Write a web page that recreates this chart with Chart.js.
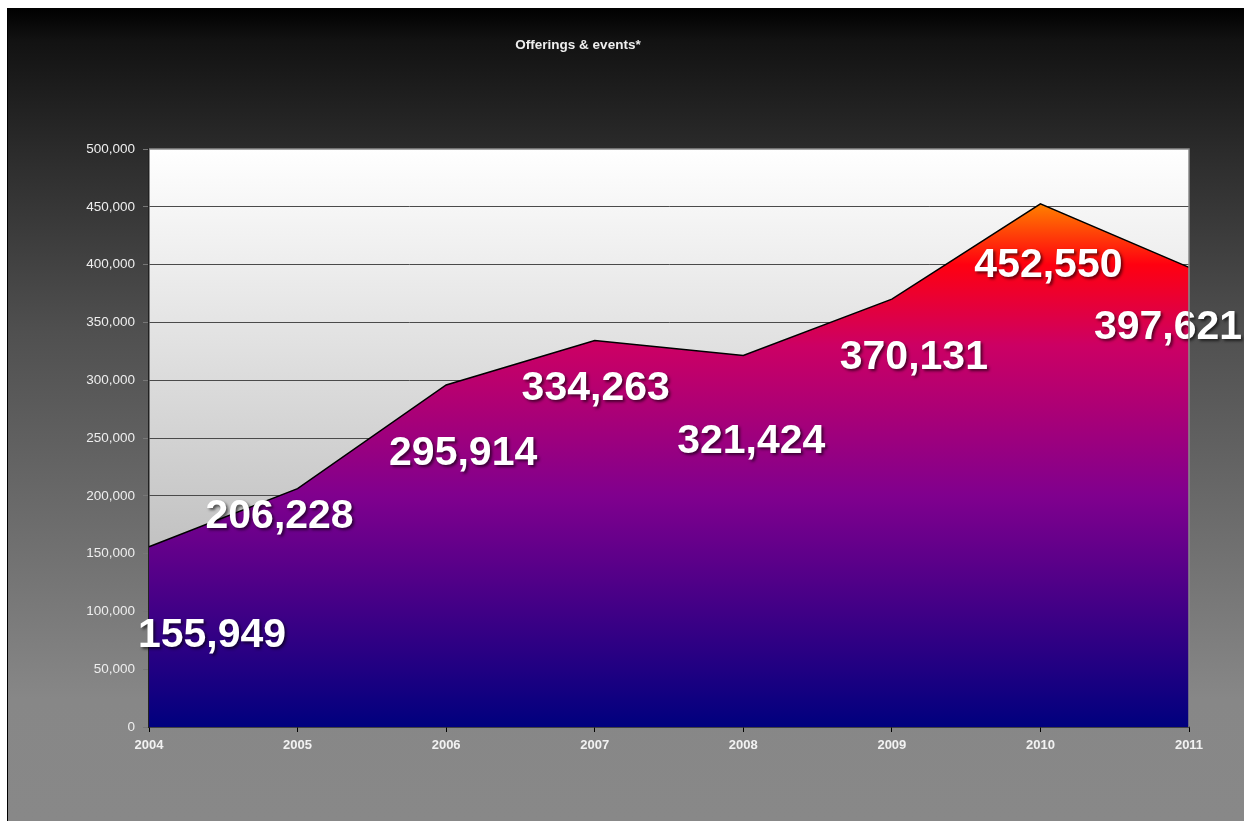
<!DOCTYPE html>
<html>
<head>
<meta charset="utf-8">
<script src="https://cdn.jsdelivr.net/npm/chart.js@4.4.0/dist/chart.umd.min.js"></script>
<style>
    html, body { margin: 0; padding: 0; background: #fff; }
    #wrap {
        position: absolute; left: 7px; top: 8px;
        width: 1236px; height: 813px;
        border-left: 1px solid #000;
    }
    canvas { display: block; }
</style>
</head>
<body>
<div id="wrap"><canvas id="offeringsChart" width="1236" height="813"></canvas></div>
<script>
// データ
const years = ['2004', '2005', '2006', '2007', '2008', '2009', '2010', '2011'];
const offerings = [155949, 206228, 295914, 334263, 321424, 370131, 452550, 397621];
const yTicks = [0, 50000, 100000, 150000, 200000, 250000, 300000, 350000, 400000, 450000, 500000];
const chartTitle = 'Offerings & events*';

// ラベル位置のずれ（点からのピクセル）
const labelOffsets = [[63, 89], [-18, 28], [17, 69], [1, 48], [8, 86], [22, 59], [8, 62], [-21, 60]];

const fmt = v => v.toLocaleString('en-US');

// 背景と塗りの描画
const bgPlugin = {
    id: 'bgPlugin',
    beforeDraw(chart) {
        const ctx = chart.ctx;
        const a = chart.chartArea;
        ctx.save();
        const g = ctx.createLinearGradient(0, 0, 0, chart.height);
        g.addColorStop(0, '#000000');
        g.addColorStop(0.04, '#121212');
        g.addColorStop(0.18, '#2c2c2c');
        g.addColorStop(0.4, '#505050');
        g.addColorStop(0.85, '#878787');
        g.addColorStop(1, '#888888');
        ctx.fillStyle = g;
        ctx.fillRect(0, 0, chart.width, chart.height);

        const pg = ctx.createLinearGradient(0, a.top, 0, a.bottom);
        pg.addColorStop(0, '#ffffff');
        pg.addColorStop(1, '#a6a6a6');
        ctx.fillStyle = pg;
        ctx.fillRect(a.left, a.top, a.right - a.left, a.bottom - a.top);

        // タイトル
        ctx.fillStyle = '#eeeeee';
        ctx.font = 'bold 13.5px "Liberation Sans", Arial, sans-serif';
        ctx.textAlign = 'center';
        ctx.textBaseline = 'middle';
        ctx.fillText(chartTitle, 570, 37);
        ctx.restore();
    },
    afterDraw(chart) {
        const ctx = chart.ctx;
        const a = chart.chartArea;
        ctx.save();
        ctx.strokeStyle = '#8a8a8a';
        ctx.lineWidth = 1.5;
        ctx.beginPath();
        ctx.moveTo(a.left, a.top);
        ctx.lineTo(a.right, a.top);
        ctx.lineTo(a.right, a.bottom);
        ctx.stroke();
        ctx.restore();
    }
};

// データラベル
const labelPlugin = {
    id: 'labelPlugin',
    afterDatasetsDraw(chart) {
        const ctx = chart.ctx;
        const meta = chart.getDatasetMeta(0);
        ctx.save();
        ctx.font = 'bold 41px "Liberation Sans", Arial, sans-serif';
        ctx.textAlign = 'center';
        ctx.textBaseline = 'middle';
        ctx.fillStyle = '#ffffff';
        ctx.shadowColor = 'rgba(0,0,0,0.6)';
        ctx.shadowOffsetX = 2;
        ctx.shadowOffsetY = 2;
        ctx.shadowBlur = 3;
        meta.data.forEach((pt, i) => {
            const off = labelOffsets[i];
            ctx.fillText(fmt(offerings[i]), pt.x + off[0], pt.y + off[1]);
        });
        ctx.restore();
    }
};

const ctx = document.getElementById('offeringsChart').getContext('2d');
new Chart(ctx, {
    type: 'line',
    data: {
        labels: years,
        datasets: [{
            data: offerings,
            fill: 'origin',
            borderColor: '#000000',
            borderWidth: 1.5,
            tension: 0,
            pointRadius: 0,
            backgroundColor: (c) => {
                const a = c.chart.chartArea;
                if (!a) return '#800080';
                const g = c.chart.ctx.createLinearGradient(0, a.bottom, 0, a.top);
                g.addColorStop(0, '#00007e');
                g.addColorStop(0.4, '#80008e');
                g.addColorStop(0.66, '#cc0064');
                g.addColorStop(0.8, '#ff0010');
                g.addColorStop(0.9, '#ff7a00');
                g.addColorStop(1, '#ff9900');
                return g;
            }
        }]
    },
    options: {
        responsive: false,
        animation: false,
        layout: { padding: { left: 0, right: 55, top: 141, bottom: 0 } },
        plugins: {
            legend: { display: false },
            title: { display: false },
            tooltip: { enabled: false }
        },
        scales: {
            x: {
                offset: false,
                grid: {
                    drawOnChartArea: false,
                    drawTicks: true,
                    tickLength: 5,
                    tickColor: '#000000'
                },
                border: { color: '#000000', width: 1.5 },
                ticks: {
                    color: '#f2f2f2',
                    padding: 6,
                    maxRotation: 0,
                    font: { family: '"Liberation Sans", Arial, sans-serif', size: 13, weight: 'bold' }
                },
                afterFit(scale) { scale.height = 94; }
            },
            y: {
                min: yTicks[0],
                max: yTicks[yTicks.length - 1],
                afterBuildTicks(scale) { scale.ticks = yTicks.map(v => ({ value: v })); },
                grid: {
                    color: (c) => (c.tick && c.tick.value > 0 && c.tick.value < 500000) ? '#4a4a4a' : 'rgba(0,0,0,0)',
                    tickColor: '#777777',
                    tickLength: 6,
                    lineWidth: 1
                },
                border: { color: '#222222', width: 1.5 },
                ticks: {
                    color: '#eeeeee',
                    padding: 8,
                    font: { family: '"Liberation Sans", Arial, sans-serif', size: 13.5 },
                    callback: (v) => fmt(v)
                },
                afterFit(scale) { scale.width = 141; }
            }
        }
    },
    plugins: [bgPlugin, labelPlugin]
});
</script>
</body>
</html>
